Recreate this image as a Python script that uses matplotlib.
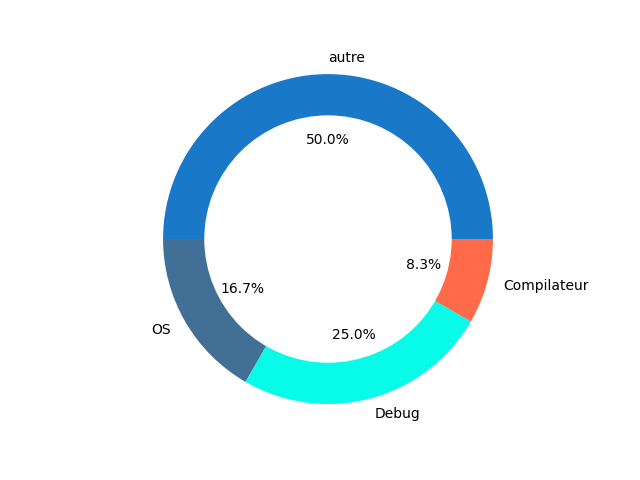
import matplotlib
matplotlib.use("Agg")
import matplotlib.pyplot as plt

labels = ["autre", "OS", "Debug", "Compilateur"]
counts = [6, 2, 3, 1]
colors = ["#1a78c8", "#426f96", "#08fbe9", "#ff6a48"]

fig = plt.figure(figsize=(6.4, 4.8), dpi=100)
ax = fig.add_axes([0.125, 0.124, 0.775, 0.756])
wedges, texts, autotexts = ax.pie(counts, labels=labels, colors=colors,
                                  autopct="%1.1f%%")
# top label sits just right of centre in the original
texts[0].set_horizontalalignment("left")

# white disc in the middle to make the ring
centre = plt.Circle((0, 0), 0.75, fc="white")
ax.add_artist(centre)
ax.axis("equal")
ax.set_ylim(-1.1, 1.1)

plt.savefig("out.png")
